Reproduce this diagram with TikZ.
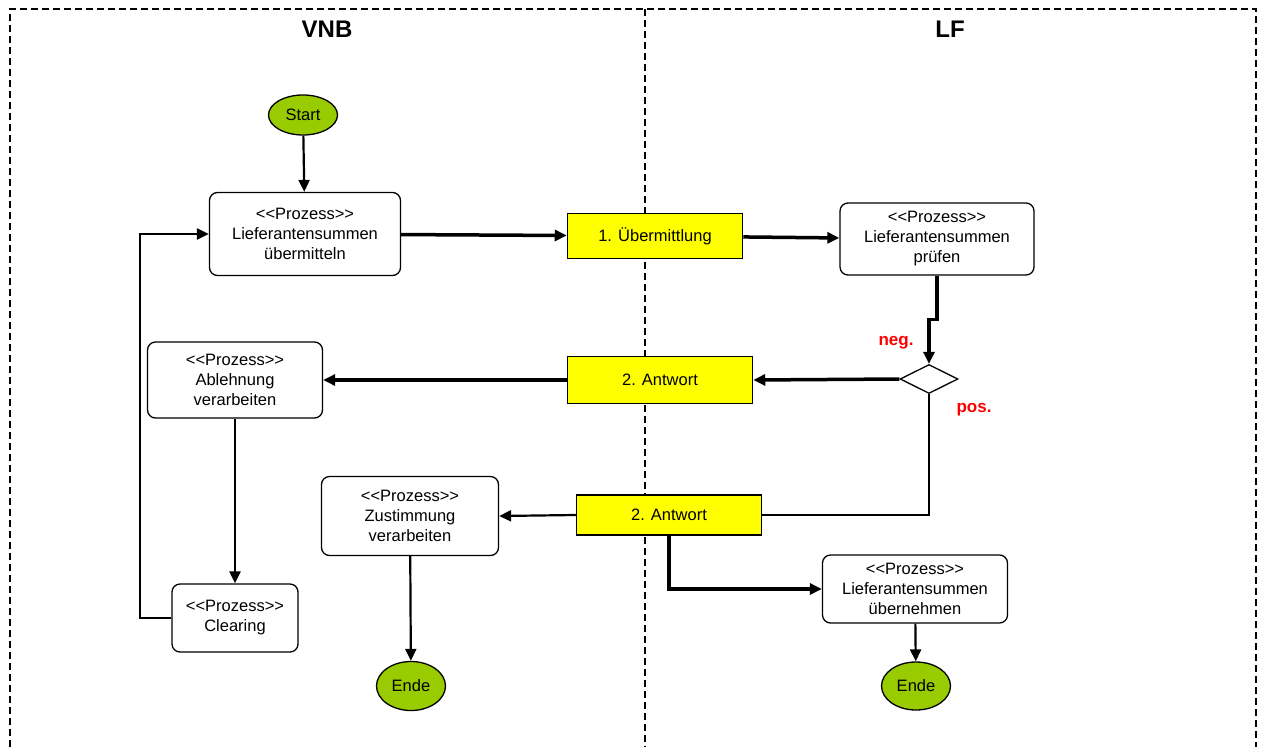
\documentclass[tikz,border=0pt]{standalone}
\usepackage{fontspec}
\setmainfont{Liberation Sans}[Ligatures=TeXOff]
\usepackage{xcolor}
\usetikzlibrary{arrows.meta,shapes.geometric}
\definecolor{endgruen}{HTML}{99CC00}
\definecolor{msggelb}{HTML}{FFFF00}

\begin{document}
\begin{tikzpicture}[x=1pt,y=-1pt,font=\fontsize{16.5}{20}\selectfont,
  prozess/.style={draw,line width=1.3pt,rounded corners=8pt,fill=white,align=center,inner sep=0pt},
  nachricht/.style={draw,line width=1.5pt,fill=msggelb,inner sep=0pt,minimum width=185pt},
  terminal/.style={draw,ellipse,line width=1.3pt,fill=endgruen,inner sep=0pt,minimum width=69pt},
  pfeil/.style={-{Triangle[length=12pt,width=11pt]}},
  rahmen/.style={line width=1.8pt,dash pattern=on 7pt off 4pt},
  bahn/.style={font=\fontsize{24}{28}\selectfont\bfseries},
  zweig/.style={text=red,font=\fontsize{17}{20}\selectfont\bfseries}]
  \useasboundingbox (0,0) rectangle (1265,747);
  % Schwimmbahnen
  \draw[rahmen] (10,747) -- (10,9) -- (1256,9) -- (1256,747);
  \draw[rahmen] (645,9) -- (645,747);
  \node[bahn] (vnb) at (327,29) {VNB};
  \node[bahn] (lf) at (950,29) {LF};

  \node[terminal,minimum height=40pt] (start) at (303,115) {Start};
  \node[prozess,minimum width=191pt,minimum height=83pt] (uebermitteln) at (305,234)
    {<<Prozess>>\\Lieferantensummen\\übermitteln};
  \node[nachricht,minimum width=175pt,minimum height=45pt] (msg1) at (655,236) {1. Übermittlung};
  \node[prozess,minimum width=194pt,minimum height=72pt] (pruefen) at (937,239)
    {<<Prozess>>\\Lieferantensummen\\prüfen};
  \node[draw,diamond,line width=1.3pt,fill=white,inner sep=0pt,minimum width=58pt,minimum height=29pt] (weiche) at (929,379) {};
  \node[zweig] (neg) at (896,343) {neg.};
  \node[zweig] (pos) at (974,410) {pos.};
  \node[nachricht,minimum height=47pt] (antwortneg) at (660,380) {2. Antwort};
  \node[prozess,minimum width=175pt,minimum height=76pt] (ablehnung) at (235,380)
    {<<Prozess>>\\Ablehnung\\verarbeiten};
  \node[prozess,minimum width=126pt,minimum height=68pt] (clearing) at (235,618)
    {<<Prozess>>\\Clearing};
  \node[nachricht,minimum height=40pt] (antwortpos) at (669,515) {2. Antwort};
  \node[prozess,minimum width=177pt,minimum height=79pt] (zustimmung) at (410,516)
    {<<Prozess>>\\Zustimmung\\verarbeiten};
  \node[terminal,minimum height=49pt] (ende1) at (411,686) {Ende};
  \node[prozess,minimum width=185pt,minimum height=68pt] (uebernehmen) at (915,589)
    {<<Prozess>>\\Lieferantensummen\\übernehmen};
  \node[terminal,minimum height=48pt] (ende2) at (916,686) {Ende};

  \draw[pfeil,line width=2.2pt] (start) -- (uebermitteln);
  \draw[pfeil,line width=3.5pt] (uebermitteln) -- (msg1);
  \draw[pfeil,line width=3.5pt] (msg1) -- (pruefen);
  \draw[pfeil,line width=3.5pt] (pruefen.south) -- ++(0,44) -| (weiche.north);
  \draw[pfeil,line width=3.5pt] (weiche.west) -- (antwortneg.east);
  \draw[pfeil,line width=3.5pt] (antwortneg.west) -- (ablehnung.east);
  \draw[pfeil,line width=2.5pt] (ablehnung) -- (clearing);
  \draw[pfeil,line width=2.2pt] (clearing.west) -- ++(-31,0) |- (uebermitteln.west);
  \draw[line width=1.3pt] (weiche.south) |- (antwortpos.east);
  \draw[pfeil,line width=2.2pt] (antwortpos.west) -- (zustimmung.east);
  \draw[pfeil,line width=2.2pt] (zustimmung) -- (ende1);
  \draw[pfeil,line width=3.5pt] (antwortpos.south) |- (uebernehmen.west);
  \draw[pfeil,line width=2.2pt] (uebernehmen) -- (ende2);
\end{tikzpicture}
\end{document}
